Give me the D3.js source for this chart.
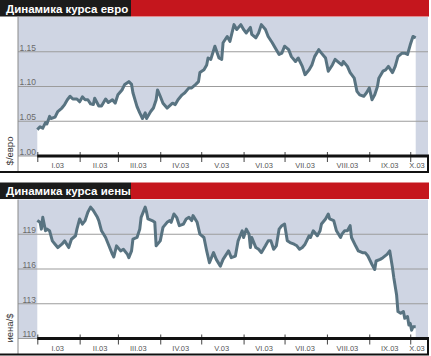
<!DOCTYPE html>
<html><head><meta charset="utf-8">
<script src="https://cdn.jsdelivr.net/npm/d3@7"></script>
<style>
html,body{margin:0;padding:0;background:#fff;}
svg{display:block;font-family:"Liberation Sans",Arial,sans-serif;}
</style></head>
<body>
<svg id="chart" width="431" height="356"></svg>
<script>
// ---- data (days since 1 Jan 2003, values) ----
const euroDays = [0,2,4,6,7,9,10,13,15,18,20,22,24,26,29,31,33,35,37,39,41,42,45,47,50,52,55,57,59,62,64,67,69,70,73,75,77,79,80,83,85,87,88,90,92,95,99,101,103,106,108,111,113,116,118,119,122,124,125,127,130,133,135,136,139,141,144,146,149,151,153,156,157,160,162,164,167,169,172,174,177,179,181,184,186,189,191,194,196,199,201,203,206,208,211,213,216,218,221,223,224,227,229,232,234,236,239,241,243,245,247,249,250,253,255,257,260,262,264,267,269,271,273,275,277];
const euroValues = [1.038,1.042,1.040,1.048,1.046,1.057,1.054,1.056,1.064,1.069,1.074,1.081,1.086,1.082,1.082,1.078,1.085,1.081,1.081,1.075,1.074,1.083,1.072,1.072,1.082,1.077,1.081,1.076,1.088,1.095,1.103,1.107,1.103,1.091,1.071,1.062,1.054,1.062,1.054,1.064,1.069,1.081,1.095,1.086,1.076,1.069,1.076,1.074,1.081,1.088,1.091,1.098,1.098,1.103,1.107,1.120,1.124,1.131,1.141,1.139,1.158,1.141,1.139,1.163,1.172,1.165,1.189,1.182,1.189,1.182,1.177,1.185,1.175,1.170,1.177,1.189,1.182,1.172,1.163,1.156,1.146,1.148,1.158,1.153,1.143,1.136,1.141,1.129,1.117,1.124,1.131,1.143,1.153,1.148,1.141,1.122,1.131,1.139,1.134,1.131,1.136,1.129,1.120,1.112,1.093,1.088,1.086,1.091,1.098,1.081,1.088,1.100,1.112,1.122,1.124,1.129,1.120,1.129,1.143,1.148,1.148,1.146,1.160,1.172,1.170];

const yenDays = [0,2,3,4,6,7,9,11,13,15,18,20,23,25,28,29,31,33,35,37,39,41,44,45,47,50,52,55,56,58,61,63,66,67,69,70,73,75,76,79,80,81,84,86,87,90,92,95,97,98,100,102,104,107,109,111,113,114,117,119,122,124,126,129,131,134,136,140,142,145,147,150,151,153,155,156,157,160,162,164,167,169,171,173,175,177,179,181,183,185,188,190,192,194,196,199,200,202,205,207,208,211,213,214,217,219,222,223,225,227,229,230,233,235,238,240,242,245,247,248,251,253,256,258,260,261,263,264,266,268,269,271,272,273,274,275,277];
const yenValues = [120.18,120.03,119.44,120.46,119.30,119.44,119.30,118.43,118.14,117.85,118.14,118.43,117.85,118.57,118.87,119.44,120.32,119.88,120.18,120.90,121.34,121.05,120.46,120.18,119.30,118.72,118.14,117.26,117.04,118.00,117.56,117.70,117.26,116.98,117.56,118.57,118.72,119.44,120.46,121.34,120.90,120.32,120.18,120.03,118.00,118.43,119.59,120.03,120.18,120.03,120.75,120.46,119.74,119.88,120.32,120.46,120.18,120.61,120.03,119.01,118.72,117.56,116.54,117.41,116.83,116.25,116.83,117.56,116.98,117.12,118.43,119.30,118.72,119.44,119.01,117.85,118.72,117.85,117.70,117.41,118.00,118.43,118.43,117.70,118.00,119.44,119.74,119.88,118.43,118.28,118.14,118.00,117.70,117.85,118.14,118.87,118.72,119.30,118.87,119.30,119.88,120.32,120.75,120.32,120.18,119.30,118.72,119.01,119.30,119.30,119.74,118.72,118.00,117.56,117.41,117.41,117.12,116.39,115.96,116.69,116.83,116.98,117.26,117.56,116.10,115.23,113.78,112.33,112.18,112.33,111.74,111.89,111.16,111.31,110.72,111.02,111.02];

const monthLabels = ["I.03","II.03","III.03","IV.03","V.03","VI.03","VII.03","VIII.03","IX.03","X.03"];
const euroTicks = [1.00,1.05,1.10,1.15];
const euroTickLabels = ["1.00","1.05","1.10","1.15"];
const yenTicks = [110,113,116,119];
const yenTickLabels = ["110","113","116","119"];

const panels = [
  {title:"Динамика курса евро", unit:"$/евро", days:euroDays, values:euroValues,
   domain:[1.00,1.20], ticks:euroTicks, tickLabels:euroTickLabels, top:0, unitY:151},
  {title:"Динамика курса иены", unit:"иена/$", days:yenDays, values:yenValues,
   domain:[110,122], ticks:yenTicks, tickLabels:yenTickLabels, top:182.5, unitY:145.5}
];

// ---- drawing ----
const svg = d3.select("#chart");
const start = new Date(2003,0,1);
const x = d3.scaleTime().domain([start, new Date(2003,9,14)]).range([37.3, 428]);
const monthStarts = d3.timeMonth.range(start, new Date(2003,9,2));
const labelDates = monthStarts.map((m,i)=> i===9 ? d3.timeDay.offset(m,5) : d3.timeDay.offset(m,15));

const BLUE = "#cfd5e3", LINE = "#587381";

panels.forEach(p=>{
  const g = svg.append("g").attr("transform",`translate(0,${p.top})`);
  const plotTop = 17, axisY = 156, boxBottom = 172, left = 18, right = 428;
  const y = d3.scaleLinear().domain(p.domain).range([axisY, plotTop]);
  const data = p.days.map((d,i)=>({date:d3.timeDay.offset(start,d), v:p.values[i]}));

  // title bar
  g.append("rect").attr("x",0).attr("y",0).attr("width",131).attr("height",16.5).attr("fill","#1b1b1b");
  g.append("rect").attr("x",131).attr("y",0).attr("width",298).attr("height",16.5).attr("fill","#c5161d");
  g.append("text").attr("x",6).attr("y",12.7).attr("fill","#fff")
    .attr("font-size","11.5px").attr("font-weight","bold").text(p.title);

  // plot background
  g.append("rect").attr("x",left).attr("y",plotTop).attr("width",right-left).attr("height",axisY-plotTop).attr("fill",BLUE);

  // white area under the curve
  const area = d3.area().x(d=>x(d.date)).y0(axisY).y1(d=>y(d.v));
  g.append("path").datum(data).attr("d",area).attr("fill","#fff");

  // gridlines
  g.selectAll(".grid").data(p.ticks).join("line")
    .attr("x1",left).attr("x2",right).attr("y1",d=>y(d)).attr("y2",d=>y(d))
    .attr("stroke","#9c9c9c").attr("stroke-width",1.2);

  // y tick labels
  g.selectAll(".ylab").data(p.ticks).join("text")
    .attr("x",36).attr("y",d=>y(d)-1.2).attr("text-anchor","end")
    .attr("font-size","8.5px").attr("fill","#6a6a6a")
    .text((d,i)=>p.tickLabels[i]);

  // line
  const line = d3.line().x(d=>x(d.date)).y(d=>y(d.v));
  g.append("path").datum(data).attr("d",line).attr("fill","none")
    .attr("stroke",LINE).attr("stroke-width",3).attr("stroke-linejoin","round");

  // left border
  g.append("line").attr("x1",left).attr("x2",left).attr("y1",plotTop).attr("y2",boxBottom)
    .attr("stroke","#8a8a8a").attr("stroke-width",1);

  // x axis band
  const axis = d3.axisBottom(x).tickValues(monthStarts).tickSize(10).tickSizeOuter(0).tickFormat("");
  const ag = g.append("g").attr("transform",`translate(0,${axisY-4})`).call(axis);
  ag.select(".domain").remove();
  ag.selectAll(".tick line").attr("stroke","#444").attr("stroke-width",1);

  g.append("line").attr("x1",x(start)).attr("x2",right+1).attr("y1",axisY).attr("y2",axisY)
    .attr("stroke","#111").attr("stroke-width",3);
  g.append("line").attr("x1",0).attr("x2",right+1).attr("y1",boxBottom).attr("y2",boxBottom)
    .attr("stroke","#111").attr("stroke-width",2);
  g.append("line").attr("x1",right).attr("x2",right).attr("y1",axisY).attr("y2",boxBottom)
    .attr("stroke","#111").attr("stroke-width",2);

  g.selectAll(".xlab").data(labelDates).join("text")
    .attr("x",d=>x(d)).attr("y",axisY+12.3).attr("text-anchor","middle")
    .attr("font-size","7.5px").attr("fill","#555")
    .text((d,i)=>monthLabels[i]);

  // unit label
  g.append("text").attr("transform",`translate(12.5,${p.unitY}) rotate(-90)`)
    .attr("text-anchor","middle").attr("font-size","9.5px").attr("fill","#333")
    .text(p.unit);
});
</script>
</body></html>
